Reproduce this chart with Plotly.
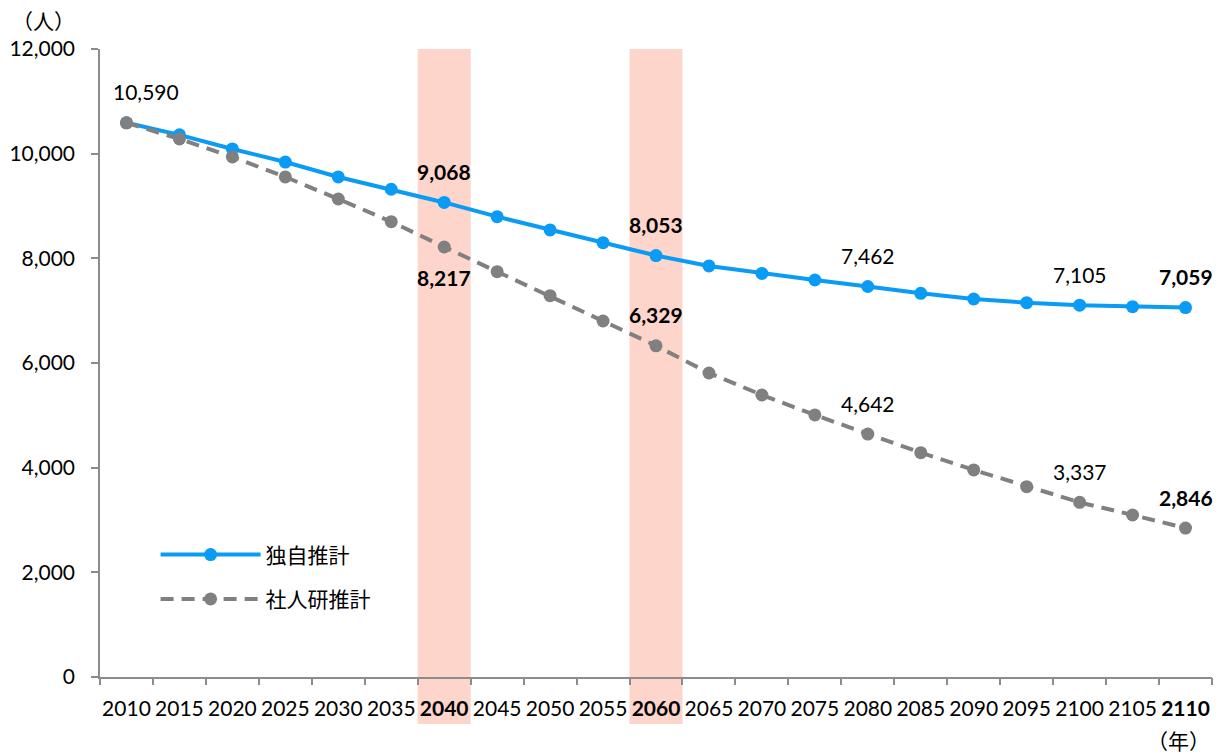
import plotly.graph_objects as go

years = [2010, 2015, 2020, 2025, 2030, 2035, 2040, 2045, 2050, 2055, 2060,
         2065, 2070, 2075, 2080, 2085, 2090, 2095, 2100, 2105, 2110]
own_estimate = [10590, 10360, 10090, 9840, 9555, 9320, 9068, 8796, 8542, 8299, 8053,
                7854, 7712, 7586, 7462, 7332, 7223, 7153, 7105, 7077, 7059]
ipss_estimate = [10590, 10281, 9937, 9555, 9134, 8700, 8217, 7745, 7287, 6803, 6329,
                 5809, 5389, 5007, 4642, 4286, 3956, 3637, 3337, 3096, 2846]
highlight_years = [2040, 2060]
bold_years = [2040, 2060, 2110]

# labelled points: (year, bold, position)
labels_own = [(2010, False, "above"), (2040, True, "above"), (2060, True, "above"),
              (2080, False, "above"), (2100, False, "above"), (2110, True, "above")]
labels_ipss = [(2040, True, "below"), (2060, True, "above"), (2080, False, "above"),
               (2100, False, "above"), (2110, True, "above")]

idx = list(range(len(years)))
tick_text = [f"<b>{y}</b>" if y in bold_years else str(y) for y in years]

BLUE = "#0A9BF4"
GRAY = "#808080"
FONT = "Lato, 'Noto Sans CJK JP', sans-serif"
CJK = "'Noto Sans CJK JP', sans-serif"
FS = 21

fig = go.Figure()
fig.add_trace(go.Scatter(
    x=idx, y=own_estimate, name="独自推計", mode="lines+markers", legendgroup="own",
    line=dict(color=BLUE, width=4), marker=dict(color=BLUE, size=13),
))
fig.add_trace(go.Scatter(
    x=idx, y=ipss_estimate, name="社人研推計", mode="lines+markers", legendgroup="ipss",
    line=dict(color=GRAY, width=4, dash="13px,8px"), marker=dict(color=GRAY, size=13),
))

# shaded bands behind the highlighted years
for hy in highlight_years:
    i = years.index(hy)
    fig.add_shape(type="rect", xref="x", yref="paper", x0=i - 0.5, x1=i + 0.5,
                  y0=-0.075, y1=1, fillcolor="#FDD5CB", line_width=0, layer="below")


def add_labels(series, entries):
    for yr, bold, pos in entries:
        i = years.index(yr)
        v = series[i]
        txt = f"{v:,}"
        if bold:
            txt = f"<b>{txt}</b>"
        fig.add_annotation(
            x=i, y=v, xref="x", yref="y", text=txt, showarrow=False,
            yanchor="middle", xanchor="center",
            yshift=31 if pos == "above" else -31,
            xshift=20 if i == 0 else 0,
            font=dict(family=FONT, size=FS, color="black"),
        )


add_labels(own_estimate, labels_own)
add_labels(ipss_estimate, labels_ipss)

fig.add_annotation(xref="paper", yref="paper", x=-0.051, y=1.0, yshift=29,
                   text="（人）", showarrow=False, xanchor="center", yanchor="middle",
                   font=dict(family=CJK, size=FS, color="black"))
fig.add_annotation(xref="paper", yref="paper", x=1.0, y=0, yshift=-63,
                   text="（年）", showarrow=False, xanchor="right", yanchor="middle",
                   font=dict(family=CJK, size=FS, color="black"))

fig.update_layout(
    width=1224, height=754,
    margin=dict(l=100, r=12, t=49, b=77, autoexpand=False),
    plot_bgcolor="white", paper_bgcolor="white",
    font=dict(family=FONT, size=FS, color="black"),
    hovermode=False,
    showlegend=True,
    legend=dict(x=0.05, y=0.227, xanchor="left", yanchor="top",
                bgcolor="rgba(0,0,0,0)", font=dict(family=CJK, size=FS),
                itemwidth=100, tracegroupgap=14),
    xaxis=dict(
        tickmode="array", tickvals=idx, ticktext=tick_text,
        ticks="", tickangle=0, showline=True, linecolor="#8C8C8C", linewidth=1.5,
        showgrid=False, zeroline=False, range=[-0.5, len(idx) - 0.5],
        tickfont=dict(family=FONT, size=FS), automargin=False,
        ticklabelstandoff=12,
    ),
    # secondary x axis that only carries the boundary tick marks
    xaxis2=dict(
        overlaying="x", side="bottom", anchor="y", matches="x",
        tickmode="array", tickvals=[i - 0.5 for i in idx] + [len(idx) - 0.5],
        showticklabels=False, ticks="outside", ticklen=7, tickcolor="#8C8C8C",
        tickwidth=1.5, showline=False, showgrid=False, zeroline=False,
    ),
    yaxis=dict(
        range=[0, 12000], tickvals=list(range(0, 12001, 2000)),
        tickformat=",d", ticks="outside", ticklen=7, tickcolor="#8C8C8C", tickwidth=1.5,
        showline=True, linecolor="#8C8C8C", linewidth=1.5,
        showgrid=False, zeroline=False, automargin=False,
        tickfont=dict(family=FONT, size=FS), ticklabelstandoff=12,
    ),
)
# an invisible trace so the boundary-tick axis is drawn
fig.add_trace(go.Scatter(x=[0], y=[None], xaxis="x2", showlegend=False,
                         hoverinfo="skip", mode="markers"))

fig.write_html("out.html")
